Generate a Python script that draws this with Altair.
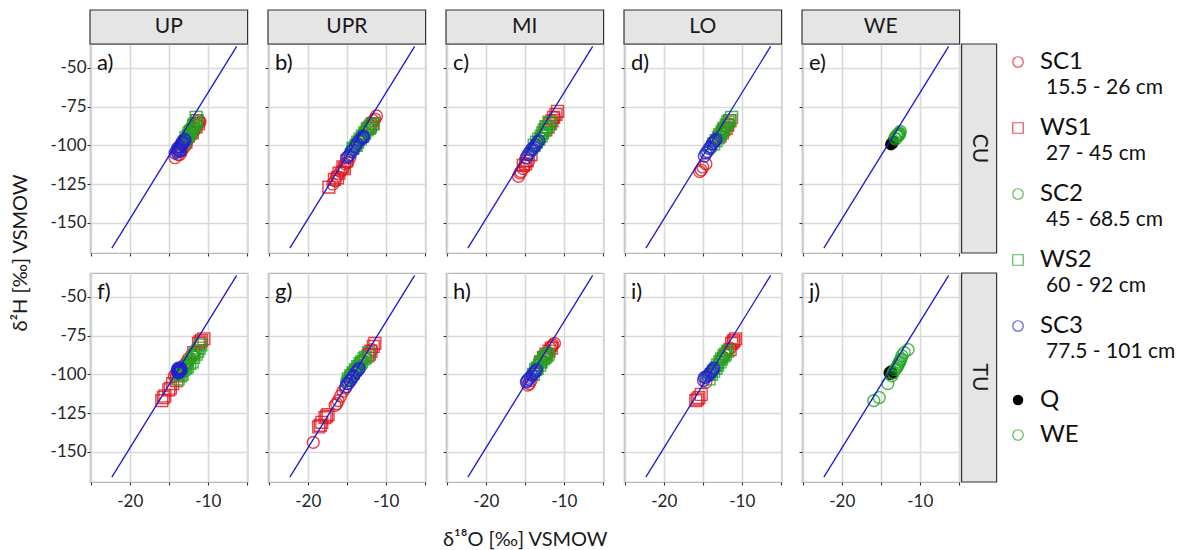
import altair as alt
import pandas as pd

# ---------------- categories / labels ----------------
COLUMNS = ["UP", "UPR", "MI", "LO", "WE"]
ROWS = ["CU", "TU"]
PANEL_TAGS = [["a)", "b)", "c)", "d)", "e)"], ["f)", "g)", "h)", "i)", "j)"]]

GROUPS = ["SC1", "WS1", "SC2", "WS2", "SC3", "Q", "WE"]
GROUP_DEPTHS = ["15.5 - 26 cm", "27 - 45 cm", "45 - 68.5 cm", "60 - 92 cm", "77.5 - 101 cm", "", ""]
GROUP_BLOCK = [1, 1, 1, 1, 1, 2, 2]
GROUP_COLORS = ["#E0141E", "#E0141E", "#1FA51F", "#1FA51F", "#2222D0", "#000000", "#1FA51F"]
GROUP_SHAPES = ["circle", "square", "circle", "square", "circle", "circle", "circle"]
GROUP_FILLED = [False, False, False, False, False, True, False]

X_TICKS = [-25, -20, -15, -10, -5]
Y_TICKS = [-150, -125, -100, -75, -50]
X_TITLE = "δ¹⁸O [‰] VSMOW"
Y_TITLE = "δ²H [‰] VSMOW"

# meteoric water line (end points)
GMWL_X = [-22.3, -6.3]
GMWL_Y = [-166.5, -36.0]

# ---------------- data: (δ18O, δ2H) ----------------
UP_CU = {
    "SC1": [(-14.2, -108), (-13.8, -106), (-13.6, -106), (-13.3, -103), (-13.0, -101), (-12.8, -99), (-12.5, -96), (-12.2, -94),
            (-12.0, -92), (-11.8, -91), (-11.6, -89), (-11.4, -87), (-11.3, -86), (-11.1, -84), (-11.0, -85)],
    "WS1": [(-13.5, -103), (-12.8, -98), (-12.0, -92), (-11.5, -88), (-11.2, -86), (-11.4, -84)],
    "SC2": [(-13.4, -99), (-13.2, -100), (-12.9, -97), (-12.7, -96), (-12.6, -95), (-12.5, -92), (-12.3, -93), (-12.1, -89),
            (-12.0, -90), (-11.9, -86), (-11.8, -88)],
    "WS2": [(-13.0, -98), (-12.8, -95), (-12.5, -94), (-12.4, -92), (-12.2, -91), (-12.0, -90), (-11.8, -87), (-11.6, -86),
            (-11.5, -82), (-11.4, -84)],
    "SC3": [(-14.2, -105), (-14.0, -104), (-13.9, -102), (-13.8, -103), (-13.7, -101), (-13.6, -104), (-13.5, -101),
            (-13.5, -103), (-13.4, -100), (-13.3, -98), (-13.2, -99), (-13.1, -98), (-13.0, -96), (-12.9, -97)],
}
UPR_CU = {
    "SC1": [(-16.8, -125), (-16.5, -123), (-16.3, -120), (-15.8, -117), (-15.6, -116), (-15.2, -112), (-14.9, -111),
            (-14.6, -108), (-11.8, -86), (-11.6, -84), (-11.4, -83), (-11.2, -81)],
    "WS1": [(-17.3, -127), (-16.6, -122), (-16.2, -121), (-16.0, -118), (-15.5, -114), (-15.3, -115), (-15.0, -110),
            (-12.3, -89), (-12.0, -88), (-11.7, -86)],
    "SC2": [(-14.5, -104), (-14.2, -101), (-14.0, -100), (-13.7, -98), (-13.5, -97), (-13.2, -95), (-13.0, -93),
            (-12.7, -91), (-12.5, -90), (-12.1, -88)],
    "WS2": [(-14.2, -102), (-13.8, -100), (-13.6, -98), (-13.3, -96), (-13.0, -94), (-12.7, -92), (-12.4, -90),
            (-12.1, -89), (-11.9, -87), (-11.6, -86)],
    "SC3": [(-15.0, -108), (-14.8, -107), (-14.6, -106), (-14.4, -104), (-14.2, -103), (-13.9, -101), (-13.7, -99),
            (-13.4, -97), (-13.2, -96), (-13.0, -95), (-12.9, -94), (-12.8, -95)],
}
MI_CU = {
    "SC1": [(-15.8, -120), (-15.6, -118), (-15.5, -117), (-15.2, -115), (-15.0, -113), (-14.5, -110), (-11.5, -84), (-11.2, -82)],
    "WS1": [(-15.2, -113), (-14.9, -112), (-14.7, -110), (-14.2, -106), (-12.3, -90), (-12.0, -88), (-11.8, -86),
            (-11.5, -84), (-11.3, -82), (-11.0, -80), (-10.8, -78)],
    "SC2": [(-14.0, -103), (-13.7, -100), (-13.5, -99), (-13.2, -97), (-13.0, -95), (-12.8, -93), (-12.6, -92), (-12.2, -89)],
    "WS2": [(-13.8, -100), (-13.5, -98), (-13.2, -96), (-12.9, -94), (-12.7, -92), (-12.5, -90), (-12.3, -88),
            (-12.2, -88), (-11.9, -85), (-11.7, -86)],
    "SC3": [(-14.8, -108), (-14.6, -106), (-14.4, -105), (-14.2, -103), (-14.0, -102), (-13.8, -101), (-13.6, -100),
            (-13.4, -98), (-13.2, -97)],
}
LO_CU = {
    "SC1": [(-15.4, -117), (-15.2, -116), (-15.0, -114), (-14.6, -112), (-12.0, -88), (-11.7, -86)],
    "WS1": [(-12.8, -94), (-12.5, -92), (-12.3, -90), (-12.0, -89), (-11.8, -87), (-11.5, -84)],
    "SC2": [(-14.0, -102), (-13.7, -99), (-13.4, -97), (-13.1, -95), (-12.9, -94), (-12.6, -92), (-12.4, -90),
            (-12.2, -89), (-12.0, -87)],
    "WS2": [(-13.6, -99), (-13.3, -97), (-13.0, -95), (-12.8, -93), (-12.5, -91), (-12.3, -89), (-12.0, -87),
            (-11.8, -85), (-11.6, -84), (-11.3, -82)],
    "SC3": [(-14.8, -107), (-14.6, -105), (-14.4, -104), (-14.2, -102), (-14.0, -101), (-13.8, -99), (-13.6, -98),
            (-13.4, -97), (-13.3, -96)],
}
WE_CU = {
    "Q": [(-13.7, -99.5), (-13.6, -98.8), (-13.5, -98.5), (-13.4, -97.5)],
    "WE": [(-13.2, -95), (-13.1, -96), (-13.0, -94), (-12.9, -93.5), (-12.8, -93), (-12.7, -92.5), (-12.6, -92),
           (-12.5, -91), (-12.6, -93), (-12.8, -94)],
}
UP_TU = {
    "SC1": [(-14.3, -101), (-14.1, -100), (-13.8, -99), (-13.0, -94), (-12.7, -92), (-12.5, -90), (-12.0, -87)],
    "WS1": [(-15.9, -117), (-15.7, -115), (-15.5, -114), (-15.0, -110), (-14.8, -109), (-14.5, -106), (-14.0, -104),
            (-11.8, -86), (-11.2, -80), (-11.0, -79), (-10.8, -78), (-10.5, -77)],
    "SC2": [(-13.5, -100), (-13.2, -98), (-13.0, -96), (-12.9, -98), (-12.7, -94), (-12.5, -92), (-12.2, -90),
            (-12.0, -88), (-11.9, -88), (-11.6, -85)],
    "WS2": [(-13.8, -103), (-13.5, -101), (-13.3, -100), (-12.8, -96), (-12.6, -95), (-12.3, -93), (-12.0, -92),
            (-11.8, -89), (-11.5, -87), (-11.3, -85), (-11.1, -83), (-10.9, -81)],
    "SC3": [(-13.9, -98), (-13.9, -97), (-13.8, -99), (-13.8, -96), (-13.7, -97), (-13.7, -99), (-13.6, -98),
            (-13.6, -96), (-13.5, -96), (-13.5, -98), (-13.4, -97)],
}
UPR_TU = {
    "SC1": [(-19.3, -144), (-16.5, -120), (-16.3, -119), (-16.1, -117), (-15.8, -114), (-15.5, -111), (-15.2, -109), (-11.8, -84)],
    "WS1": [(-18.6, -134), (-18.4, -133), (-18.2, -131), (-17.8, -128), (-17.6, -127), (-17.4, -126), (-12.3, -88),
            (-12.1, -87), (-11.9, -85), (-11.6, -82), (-11.4, -80)],
    "SC2": [(-15.0, -104), (-14.7, -102), (-14.5, -100), (-14.2, -98), (-14.0, -97), (-13.7, -95), (-13.5, -94),
            (-13.2, -92), (-13.0, -91), (-12.6, -89)],
    "WS2": [(-14.8, -103), (-14.5, -101), (-14.2, -99), (-13.9, -97), (-13.6, -95), (-13.3, -93), (-13.1, -92),
            (-12.8, -90), (-12.6, -89), (-12.2, -86)],
    "SC3": [(-15.1, -108), (-15.0, -106), (-14.8, -106), (-14.6, -104), (-14.5, -104), (-14.3, -102), (-14.1, -101),
            (-13.9, -99), (-13.7, -98), (-13.5, -97), (-13.4, -96)],
}
MI_TU = {
    "SC1": [(-14.6, -107), (-14.4, -106), (-14.2, -104), (-12.5, -88), (-12.2, -87), (-12.0, -86), (-11.7, -83),
            (-11.5, -82), (-11.4, -81), (-11.2, -80)],
    "WS1": [(-13.0, -92), (-12.6, -89), (-12.3, -87), (-11.9, -85), (-11.6, -83)],
    "SC2": [(-13.8, -98), (-13.5, -96), (-13.3, -94), (-13.0, -92), (-12.8, -91), (-12.6, -89), (-12.4, -88), (-12.0, -86)],
    "WS2": [(-13.9, -100), (-13.6, -97), (-13.4, -96), (-13.1, -94), (-12.9, -92), (-12.6, -90), (-12.4, -89),
            (-12.2, -88), (-12.0, -87)],
    "SC3": [(-14.8, -105), (-14.7, -104), (-14.5, -103), (-14.3, -102), (-14.1, -101), (-14.0, -100), (-13.8, -99),
            (-13.6, -98), (-13.5, -97)],
}
LO_TU = {
    "SC1": [(-14.6, -105), (-12.5, -89), (-12.2, -87), (-12.0, -86), (-11.8, -84), (-11.5, -83)],
    "WS1": [(-15.9, -117), (-15.7, -116), (-15.5, -115), (-15.2, -113), (-11.5, -84), (-11.3, -80), (-11.1, -79),
            (-11.0, -78), (-10.8, -77)],
    "SC2": [(-14.0, -100), (-13.7, -98), (-13.4, -96), (-13.1, -94), (-12.9, -92), (-12.6, -90), (-12.4, -89), (-12.0, -86)],
    "WS2": [(-14.2, -103), (-13.9, -100), (-13.6, -98), (-13.3, -96), (-13.1, -94), (-12.8, -92), (-12.6, -90),
            (-12.3, -88), (-12.1, -87), (-11.8, -85)],
    "SC3": [(-14.9, -104), (-14.8, -102), (-14.6, -102), (-14.4, -101), (-14.2, -100), (-14.0, -99), (-13.9, -98),
            (-13.7, -97), (-13.6, -96)],
}
WE_TU = {
    "Q": [(-13.9, -99), (-13.8, -100), (-13.7, -98), (-13.6, -99.5)],
    "WE": [(-15.9, -117), (-15.2, -115), (-14.1, -106), (-13.6, -101), (-13.4, -99), (-13.2, -97), (-13.0, -96),
           (-12.9, -95), (-12.8, -94), (-12.7, -93), (-12.6, -92), (-12.5, -91), (-12.4, -90), (-12.3, -88),
           (-12.0, -86), (-11.5, -84)],
}

PANEL_DATA = {
    ("CU", "UP"): UP_CU, ("CU", "UPR"): UPR_CU, ("CU", "MI"): MI_CU, ("CU", "LO"): LO_CU, ("CU", "WE"): WE_CU,
    ("TU", "UP"): UP_TU, ("TU", "UPR"): UPR_TU, ("TU", "MI"): MI_TU, ("TU", "LO"): LO_TU, ("TU", "WE"): WE_TU,
}

# ---------------- build tables ----------------
records = []
for (r, c), groups in PANEL_DATA.items():
    for g in GROUPS:
        for x, y in groups.get(g, []):
            records.append({"row": r, "col": c, "group": g, "order": GROUPS.index(g), "d18O": x, "d2H": y})
df = pd.DataFrame(records)
line_df = pd.DataFrame({"d18O": GMWL_X, "d2H": GMWL_Y})

# ---------------- layout constants ----------------
PW, PH = 157.6, 209
GAP = 20
STRIP_H, STRIP_W = 34, 35
FONT = "Lato"

color_scale = alt.Scale(domain=GROUPS, range=GROUP_COLORS)
shape_scale = alt.Scale(domain=GROUPS, range=GROUP_SHAPES)
open_groups = [g for g, f in zip(GROUPS, GROUP_FILLED) if not f]
filled_groups = [g for g, f in zip(GROUPS, GROUP_FILLED) if f]


def panel(ri, ci):
    r, c = ROWS[ri], COLUMNS[ci]
    d = df[(df["row"] == r) & (df["col"] == c)].sort_values("order", kind="stable")
    xs = alt.Scale(domain=[-25.1, -4.9], nice=False, zero=False)
    ys = alt.Scale(domain=[-169.6, -34.5], nice=False, zero=False)
    bottom = ri == len(ROWS) - 1
    left = ci == 0
    x_axis = alt.Axis(values=X_TICKS, labels=bottom, grid=True,
                      labelExpr="datum.value == -20 || datum.value == -10 ? toString(datum.value) : ''",
                      labelPadding=8, titleFontSize=20, titleFontWeight="normal", titlePadding=20,
                      titleColor="#1a1a1a", titleFont=FONT)
    y_axis = alt.Axis(values=Y_TICKS, labels=left, grid=True, labelPadding=1,
                      labelExpr="toString(datum.value)")
    if bottom and ci == 2:
        X = alt.X("d18O:Q", scale=xs, axis=x_axis, title=X_TITLE)
    else:
        X = alt.X("d18O:Q", scale=xs, axis=x_axis, title=None)
    Y = alt.Y("d2H:Q", scale=ys, axis=y_axis, title=None)

    base = alt.Chart(d)
    open_pts = base.transform_filter(
        alt.FieldOneOfPredicate(field="group", oneOf=open_groups)
    ).mark_point(filled=False, size=140, strokeWidth=1.4, opacity=0.8).encode(
        x=X, y=Y,
        color=alt.Color("group:N", scale=color_scale, legend=None),
        shape=alt.Shape("group:N", scale=shape_scale, legend=None),
    )
    filled_pts = base.transform_filter(
        alt.FieldOneOfPredicate(field="group", oneOf=filled_groups)
    ).mark_point(filled=True, size=140, opacity=0.95).encode(
        x=X, y=Y,
        color=alt.Color("group:N", scale=color_scale, legend=None),
        shape=alt.Shape("group:N", scale=shape_scale, legend=None),
    )
    line = alt.Chart(line_df).mark_line(color="#1a1acc", strokeWidth=1.3).encode(x=X, y=Y)
    tag = alt.Chart(pd.DataFrame({"tag": [PANEL_TAGS[ri][ci]]})).mark_text(
        align="left", baseline="middle", fontSize=22, font=FONT, color="#111111"
    ).encode(x=alt.value(7), y=alt.value(19), text="tag:N")

    layers = [filled_pts, open_pts, line, tag]

    if ri == 0:
        sdf = pd.DataFrame({"label": [c]})
        strip_rect = alt.Chart(sdf).mark_rect(fill="#e5e5e5", stroke="#333333", strokeWidth=1.2).encode(
            x=alt.value(0), x2=alt.value(PW), y=alt.value(-STRIP_H), y2=alt.value(0))
        strip_txt = alt.Chart(sdf).mark_text(fontSize=21, font=FONT, color="#1a1a1a", baseline="middle").encode(
            x=alt.value(PW / 2), y=alt.value(-STRIP_H / 2), text="label:N")
        layers += [strip_rect, strip_txt]
    if ci == len(COLUMNS) - 1:
        rdf = pd.DataFrame({"label": [r]})
        rstrip_rect = alt.Chart(rdf).mark_rect(fill="#e5e5e5", stroke="#333333", strokeWidth=1.2).encode(
            x=alt.value(PW + 2), x2=alt.value(PW + 2 + STRIP_W), y=alt.value(0), y2=alt.value(PH))
        rstrip_txt = alt.Chart(rdf).mark_text(fontSize=21, font=FONT, color="#1a1a1a", angle=90,
                                              baseline="middle").encode(
            x=alt.value(PW + 2 + STRIP_W / 2), y=alt.value(PH / 2), text="label:N")
        layers += [rstrip_rect, rstrip_txt]
    if ri == 0 and ci == 0:
        ttl = alt.Chart(pd.DataFrame({"t": [Y_TITLE]})).mark_text(
            fontSize=20, font=FONT, color="#1a1a1a", angle=270, baseline="middle"
        ).encode(x=alt.value(-69), y=alt.value(PH), text="t:N")
        layers.append(ttl)

    return alt.layer(*layers).properties(width=PW, height=PH)


# ---------------- legend (two blocks as in the picture) ----------------
leg = []
pos = 18
for i, g in enumerate(GROUPS):
    leg.append({"group": g, "depth": GROUP_DEPTHS[i], "pos": pos, "pos2": pos + 26, "filled": GROUP_FILLED[i]})
    if i + 1 < len(GROUPS):
        step = 35 + (31 if GROUP_DEPTHS[i] else 0)
        if GROUP_BLOCK[i + 1] != GROUP_BLOCK[i]:
            step += 8
        pos += step
leg_df = pd.DataFrame(leg)
LH = 2 * PH + 22
lys = alt.Scale(domain=[0, LH], range=[0, LH])
SYM_X, TXT_X, SUB_X = 38, 60, 66
lbase = alt.Chart(leg_df)
leg_open = lbase.transform_filter("!datum.filled").mark_point(filled=False, size=110, strokeWidth=1.2, opacity=0.75).encode(
    x=alt.value(SYM_X), y=alt.Y("pos:Q", scale=lys, axis=None),
    color=alt.Color("group:N", scale=color_scale, legend=None),
    shape=alt.Shape("group:N", scale=shape_scale, legend=None))
leg_fill = lbase.transform_filter("datum.filled").mark_point(filled=True, size=110, opacity=1).encode(
    x=alt.value(SYM_X), y=alt.Y("pos:Q", scale=lys, axis=None),
    color=alt.Color("group:N", scale=color_scale, legend=None),
    shape=alt.Shape("group:N", scale=shape_scale, legend=None))
leg_txt = lbase.mark_text(align="left", baseline="middle", fontSize=24, font=FONT, color="#111111").encode(
    x=alt.value(TXT_X), y=alt.Y("pos:Q", scale=lys, axis=None), text="group:N")
leg_sub = lbase.transform_filter("datum.depth != ''").mark_text(
    align="left", baseline="middle", fontSize=21, font=FONT, color="#111111").encode(
    x=alt.value(SUB_X), y=alt.Y("pos2:Q", scale=lys, axis=None), text="depth:N")
legend = alt.layer(leg_open, leg_fill, leg_txt, leg_sub).properties(
    width=PW, height=PH, view=alt.ViewBackground(stroke="transparent"))

cells = [panel(0, ci) for ci in range(5)] + [legend] + [panel(1, ci) for ci in range(5)]

chart = alt.concat(*cells, columns=6, spacing=GAP, bounds="flush").properties(
    padding={"left": 2, "top": 0, "right": 2, "bottom": 2}
).configure(font=FONT).configure_view(
    stroke="#b8b8b8", strokeWidth=1.2
).configure_axis(
    gridColor="#d9d9d9", gridWidth=1.6, domain=False,
    tickColor="#333333", tickSize=3, tickWidth=1.1,
    labelFont=FONT, labelFontSize=17, labelColor="#262626"
)

chart.save("out.html", embed_options={"renderer": "svg", "actions": False})
